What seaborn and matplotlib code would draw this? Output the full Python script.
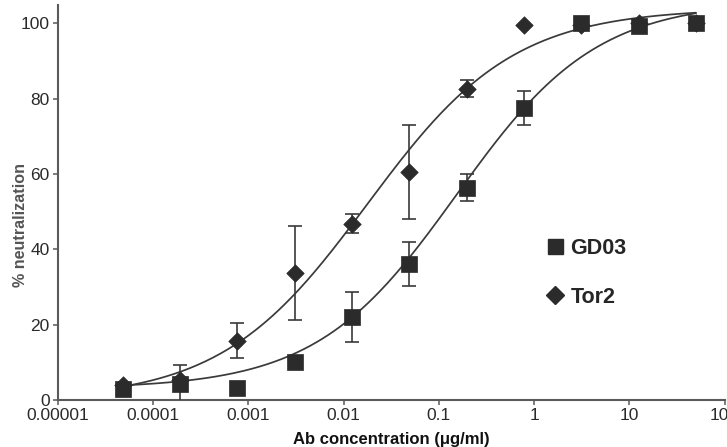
import numpy as np
import pandas as pd
import matplotlib
matplotlib.use("Agg")
import matplotlib.pyplot as plt
from matplotlib.lines import Line2D
import seaborn as sns

# ---- data ----
conc = [0.0000477, 0.000191, 0.000763, 0.00305, 0.0122, 0.0488,
        0.195, 0.781, 3.125, 12.5, 50.0]
gd03_mean = [2.9, 4.3, 3.1, 10.2, 22.0, 36.2, 56.4, 77.5, 100.0, 99.2, 100.0]
gd03_err = [0.0, 4.9, 0.0, 0.0, 6.7, 5.8, 3.5, 4.5, 0.0, 0.0, 0.0]
tor2_mean = [4.0, 5.2, 15.8, 33.8, 46.8, 60.5, 82.7, 99.6, 99.6, 100.0, 100.0]
tor2_err = [0.0, 0.0, 4.6, 12.5, 2.5, 12.5, 2.3, 0.0, 0.0, 0.0, 0.0]

# 4-parameter logistic fit parameters (bottom, top, log10 EC50, hill slope)
gd03_fit = dict(bottom=3.0, top=106.0, logec50=-0.815, hill=0.589)
tor2_fit = dict(bottom=0.0, top=104.0, logec50=-1.752, hill=0.565)

labels = ["GD03", "Tor2"]
xticks = [1e-5, 1e-4, 1e-3, 1e-2, 1e-1, 1, 10, 100]
xticklabels = ["0.00001", "0.0001", "0.001", "0.01", "0.1", "1", "10", "100"]
yticks = [0, 20, 40, 60, 80, 100]

# ---- build tables ----
df = pd.DataFrame({
    "conc": conc * 2,
    "value": gd03_mean + tor2_mean,
    "err": gd03_err + tor2_err,
    "antibody": ["GD03"] * len(conc) + ["Tor2"] * len(conc),
})


def logistic(x, p):
    return p["bottom"] + (p["top"] - p["bottom"]) / (
        1 + 10 ** ((p["logec50"] - np.log10(x)) * p["hill"]))


xs = np.logspace(np.log10(min(conc)), np.log10(max(conc)), 300)
curves = pd.concat([
    pd.DataFrame({"conc": xs, "fit": logistic(xs, gd03_fit), "antibody": "GD03"}),
    pd.DataFrame({"conc": xs, "fit": logistic(xs, tor2_fit), "antibody": "Tor2"}),
])

# ---- style ----
sns.set_style("white")
plt.rcParams["font.family"] = ["Liberation Sans", "DejaVu Sans"]

dark = "#2b2b2b"
line_c = "#3a3a3a"
axis_c = "#5a5a5a"

fig = plt.figure(figsize=(7.27, 4.47), dpi=100)
ax = fig.add_axes([58 / 727, 47 / 447, 666.6 / 727, 395.4 / 447])

# fitted curves
sns.lineplot(data=curves, x="conc", y="fit", units="antibody", estimator=None,
             color=line_c, linewidth=1.25, ax=ax, zorder=2, legend=False)

# error bars
for ab in ["Tor2", "GD03"]:
    sub = df[df["antibody"] == ab]
    sub = sub[sub["err"] > 0]
    ax.errorbar(sub["conc"], sub["value"], yerr=sub["err"], fmt="none",
                ecolor=line_c, elinewidth=1.2, capsize=5, capthick=1.2,
                zorder=3)

# markers: diamonds behind squares
sns.scatterplot(data=df[df["antibody"] == "Tor2"], x="conc", y="value",
                marker="D", s=8.9 ** 2, color=dark, edgecolor=dark,
                linewidth=0.5, ax=ax, zorder=4, legend=False)
sns.scatterplot(data=df[df["antibody"] == "GD03"], x="conc", y="value",
                marker="s", s=11.0 ** 2, color=dark, edgecolor=dark,
                linewidth=0.5, ax=ax, zorder=5, legend=False)

ax.set_xscale("log")
ax.set_xlim(1e-5, 100)
ax.set_ylim(0, 105)
ax.set_xticks(xticks)
ax.set_xticklabels(xticklabels)
ax.set_yticks(yticks)
ax.minorticks_off()

for s in ["top", "right"]:
    ax.spines[s].set_visible(False)
for s in ["left", "bottom"]:
    ax.spines[s].set_color(axis_c)
    ax.spines[s].set_linewidth(1.5)

ax.tick_params(axis="both", which="major", direction="out", length=3.6,
               width=1.1, color=axis_c, labelsize=12.5, labelcolor="#2a2a2a",
               pad=2.5, left=True, bottom=True)

ax.set_xlabel("Ab concentration (μg/ml)", fontsize=12, fontweight="bold",
              color="#111111")
ax.xaxis.set_label_coords(0.5, -0.082)
ax.set_ylabel("% neutralization", fontsize=11.6, fontweight="bold",
              color="#555555")
ax.yaxis.set_label_coords(-0.045, 0.443)

handles = [
    Line2D([], [], marker="s", linestyle="none", markersize=10.8,
           color=dark, markeredgecolor=dark),
    Line2D([], [], marker="D", linestyle="none", markersize=8.7,
           color=dark, markeredgecolor=dark),
]
ax.legend(handles, labels, loc="upper left", bbox_to_anchor=(0.73, 0.41),
          frameon=False, prop={"weight": "bold", "size": 15.5},
          handlelength=1.0, handletextpad=0.2, labelspacing=1.3,
          borderpad=0, borderaxespad=0)

fig.savefig("out.png", dpi=100)
